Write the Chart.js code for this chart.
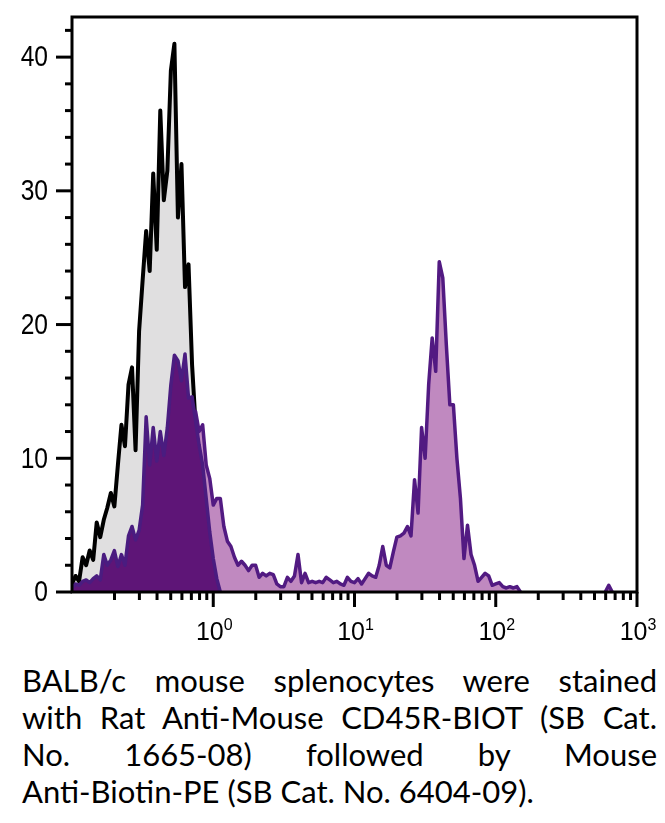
<!DOCTYPE html>
<html>
<head>
<meta charset="utf-8">
<script src="https://cdn.jsdelivr.net/npm/chart.js@4.4.1/dist/chart.umd.min.js"></script>
<style>
html,body{margin:0;padding:0;background:#fff;}
body{width:665px;height:823px;position:relative;overflow:hidden;}
#wrap{position:absolute;left:0;top:0;width:665px;height:650px;}
#caption{position:absolute;left:22px;top:662px;width:635px;font-family:Lato,'Open Sans',sans-serif;font-size:31px;line-height:37px;color:#000;}
#caption span{display:block;white-space:nowrap;}
#caption span.j{white-space:normal;text-align:justify;text-align-last:justify;}
</style>
</head>
<body>
<div id="wrap"><canvas id="c" width="665" height="650"></canvas></div>
<div id="caption">
<span class="j">BALB/c mouse splenocytes were stained</span>
<span class="j">with Rat Anti-Mouse CD45R-BIOT (SB Cat.</span>
<span class="j">No. 1665-08) followed by Mouse</span>
<span>Anti-Biotin-PE (SB Cat. No. 6404-09).</span>
</div>
<script>
// Fluorescence channel values (log-spaced channels, 0.1 .. 1000)
const fluorescence = [
0.1000,0.1059,0.1122,0.1189,0.1259,0.1334,0.1413,0.1496,0.1585,0.1679,
0.1778,0.1884,0.1995,0.2113,0.2239,0.2371,0.2512,0.2661,0.2818,0.2985,
0.3162,0.3350,0.3548,0.3758,0.3981,0.4217,0.4467,0.4732,0.5012,0.5309,
0.5623,0.5957,0.6310,0.6683,0.7079,0.7499,0.7943,0.8414,0.8913,0.9441,
1.000,1.059,1.122,1.189,1.259,1.334,1.413,1.496,1.585,1.679,
1.778,1.884,1.995,2.113,2.239,2.371,2.512,2.661,2.818,2.985,
3.162,3.350,3.548,3.758,3.981,4.217,4.467,4.732,5.012,5.309,
5.623,5.957,6.310,6.683,7.079,7.499,7.943,8.414,8.913,9.441,
10.00,10.59,11.22,11.89,12.59,13.34,14.13,14.96,15.85,16.79,
17.78,18.84,19.95,21.13,22.39,23.71,25.12,26.61,28.18,29.85,
31.62,33.50,35.48,37.58,39.81,42.17,44.67,47.32,50.12,53.09,
56.23,59.57,63.10,66.83,70.79,74.99,79.43,84.14,89.13,94.41,
100.0,105.9,112.2,118.9,125.9,133.4,141.3,149.6,158.5,167.9,
177.8,188.4,199.5,211.3,223.9,237.1,251.2,266.1,281.8,298.5,
316.2,335.0,354.8,375.8,398.1,421.7,446.7,473.2,501.2,530.9,
562.3,595.7,631.0,668.3,707.9,749.9,794.3,841.4,891.3,944.1,
1000
];

// Control histogram (grey fill, black outline)
const controlCounts = [
0.6,1.2,0.8,2.6,2.0,3.1,2.4,5.2,4.1,5.4,
6.3,7.4,6.4,9.5,12.5,10.9,15.5,16.8,10.6,19.5,
23.3,27,24,31.3,25.6,36,29.3,31.5,39,41,
28,32,22.8,24.5,17,12.5,9,6,3.5,2,
1,0.4,0
];

// Negative population (dark purple fill)
const negativeCounts = [
0.3,0.6,0.5,0.8,0.9,0.7,1.0,1.2,0.9,2.8,
2.0,2.4,3.1,1.9,2.8,2.0,4.2,4.9,3.9,4.6,
6.5,13.1,9.5,12.3,9.8,12,10.2,12.3,15.5,17.7,
17.3,15.8,17.8,14.5,14.6,12.8,11,9.5,7,4.5,
2.5,1,0
];

// Stained sample (light mauve fill, purple outline)
const stainedCounts = [
0.2,0.4,0.3,0.6,0.6,0.5,0.7,0.8,0.6,2.0,
1.5,1.8,2.2,1.4,2.0,1.5,3.0,3.5,2.8,3.4,
5,9,7.5,9,8,9.5,8.5,9.5,12,13.5,
13,12.5,14,12.5,13,13.5,12,12.5,9.5,8.5,
6.5,7,7,4.9,3.8,3.4,2.6,2.0,2.3,2.0,
1.6,2.0,2.0,1.1,1.4,1.2,1.4,1.3,0.6,0.4,
0.4,1.1,0.8,1.2,2.8,0.7,1.4,0.7,0.8,0.7,
0.8,0.7,1.1,0.9,0.7,0.8,0.6,0.5,1.1,0.8,
0.7,1.0,0.6,1.0,1.4,1.2,1.1,2.0,3.4,2.0,
1.8,3.0,4.1,4.2,4.4,4.9,4.2,8.4,5.9,12.3,
10,15.5,19,16.5,24.7,23.5,18.5,14,14,10,
7,2.5,5.0,2.8,2.0,0.8,1.1,1.4,1.2,0.5,
0.6,0.7,0.4,0.3,0.4,0.3,0.4,0,
null,null,null,null,null,null,null,null,null,null,
null,null,null,null,null,null,null,null,null,null,
null,null,null,
0,0.5,0
];

const yMajorTicks = [0,10,20,30,40];
const yTickLabels = ['0','10','20','30','40'];
const xMajorTicks = [1,10,100,1000];
const xTickBase = ['10','10','10','10'];
const xTickExponents = ['0','1','2','3'];

function pairs(counts){
  return counts.map((v,i)=>({x:fluorescence[i], y:v}));
}

const axesPlugin = {
  id:'axesFrame',
  afterDatasetsDraw(chart){
    const {ctx, chartArea:a, scales} = chart;
    const xs = scales.x, ys = scales.y;
    ctx.save();
    ctx.strokeStyle = '#000';
    ctx.lineWidth = 3;
    ctx.lineCap = 'butt';
    ctx.beginPath();
    ctx.rect(a.left, a.top, a.right - a.left, a.bottom - a.top);
    ctx.stroke();
    // y ticks
    for (let v = 0; v <= 42; v += 2) {
      const py = ys.getPixelForValue(v);
      const len = yMajorTicks.includes(v) ? 16 : 7;
      ctx.beginPath();
      ctx.moveTo(a.left - len, py);
      ctx.lineTo(a.left, py);
      ctx.stroke();
    }
    // x ticks
    const decades = [0.1,1,10,100];
    decades.forEach(d=>{
      for (let m = 2; m <= 9; m++) {
        const px = xs.getPixelForValue(m*d);
        ctx.beginPath();
        ctx.moveTo(px, a.bottom);
        ctx.lineTo(px, a.bottom + 8);
        ctx.stroke();
      }
    });
    xMajorTicks.forEach(v=>{
      const px = xs.getPixelForValue(v);
      ctx.beginPath();
      ctx.moveTo(px, a.bottom);
      ctx.lineTo(px, a.bottom + 15);
      ctx.stroke();
    });
    // y labels (narrow face)
    ctx.fillStyle = '#000';
    ctx.font = "30px 'Liberation Sans', Arial, sans-serif";
    ctx.textAlign = 'right';
    ctx.textBaseline = 'middle';
    yMajorTicks.forEach((v,i)=>{
      ctx.save();
      ctx.translate(a.left - 24, ys.getPixelForValue(v) + 1);
      ctx.scale(0.82, 1);
      ctx.fillText(yTickLabels[i], 0, 0);
      ctx.restore();
    });
    // x labels with superscripts
    ctx.textAlign = 'left';
    ctx.textBaseline = 'alphabetic';
    xMajorTicks.forEach((v,i)=>{
      const px = xs.getPixelForValue(v);
      ctx.font = "25px 'Liberation Sans', Arial, sans-serif";
      const wb = ctx.measureText(xTickBase[i]).width;
      ctx.font = "16px 'Liberation Sans', Arial, sans-serif";
      const we = ctx.measureText(xTickExponents[i]).width;
      const x0 = px - (wb + we)/2 + 1;
      ctx.font = "25px 'Liberation Sans', Arial, sans-serif";
      ctx.fillText(xTickBase[i], x0, 640);
      ctx.font = "16px 'Liberation Sans', Arial, sans-serif";
      ctx.fillText(xTickExponents[i], x0 + wb, 630);
    });
    ctx.restore();
  }
};

const bgPlugin = {
  id:'bg',
  beforeDraw(chart){
    const ctx = chart.ctx;
    ctx.save();
    ctx.fillStyle = '#fff';
    ctx.fillRect(0,0,chart.width,chart.height);
    ctx.restore();
  }
};

new Chart(document.getElementById('c'), {
  type:'line',
  data:{
    datasets:[
      {
        label:'Negative',
        data:pairs(negativeCounts),
        borderColor:'#4a1c80',
        backgroundColor:'#5e1577',
        borderWidth:3.5,
        borderJoinStyle:'round',
        fill:'origin',
        pointRadius:0,
        tension:0
      },
      {
        label:'Stained',
        data:pairs(stainedCounts),
        borderColor:'#521a82',
        backgroundColor:'#c089c0',
        borderWidth:3.5,
        borderJoinStyle:'round',
        fill:'origin',
        pointRadius:0,
        tension:0,
        spanGaps:false
      },
      {
        label:'Control',
        data:pairs(controlCounts),
        borderColor:'#000000',
        backgroundColor:'#e0dfe0',
        borderWidth:4,
        borderJoinStyle:'round',
        fill:'origin',
        pointRadius:0,
        tension:0
      }
    ]
  },
  options:{
    responsive:false,
    devicePixelRatio:1,
    animation:false,
    layout:{padding:{top:17,right:28,left:0,bottom:0}},
    plugins:{legend:{display:false},tooltip:{enabled:false}},
    scales:{
      x:{
        type:'logarithmic',
        min:0.1,max:1000,
        grid:{display:false},
        border:{display:false},
        ticks:{display:false},
        afterFit(s){ s.height = 58; }
      },
      y:{
        type:'linear',
        min:0,max:43,
        grid:{display:false},
        border:{display:false},
        ticks:{display:false},
        afterFit(s){ s.width = 72; }
      }
    }
  },
  plugins:[bgPlugin, axesPlugin]
});
</script>
</body>
</html>
